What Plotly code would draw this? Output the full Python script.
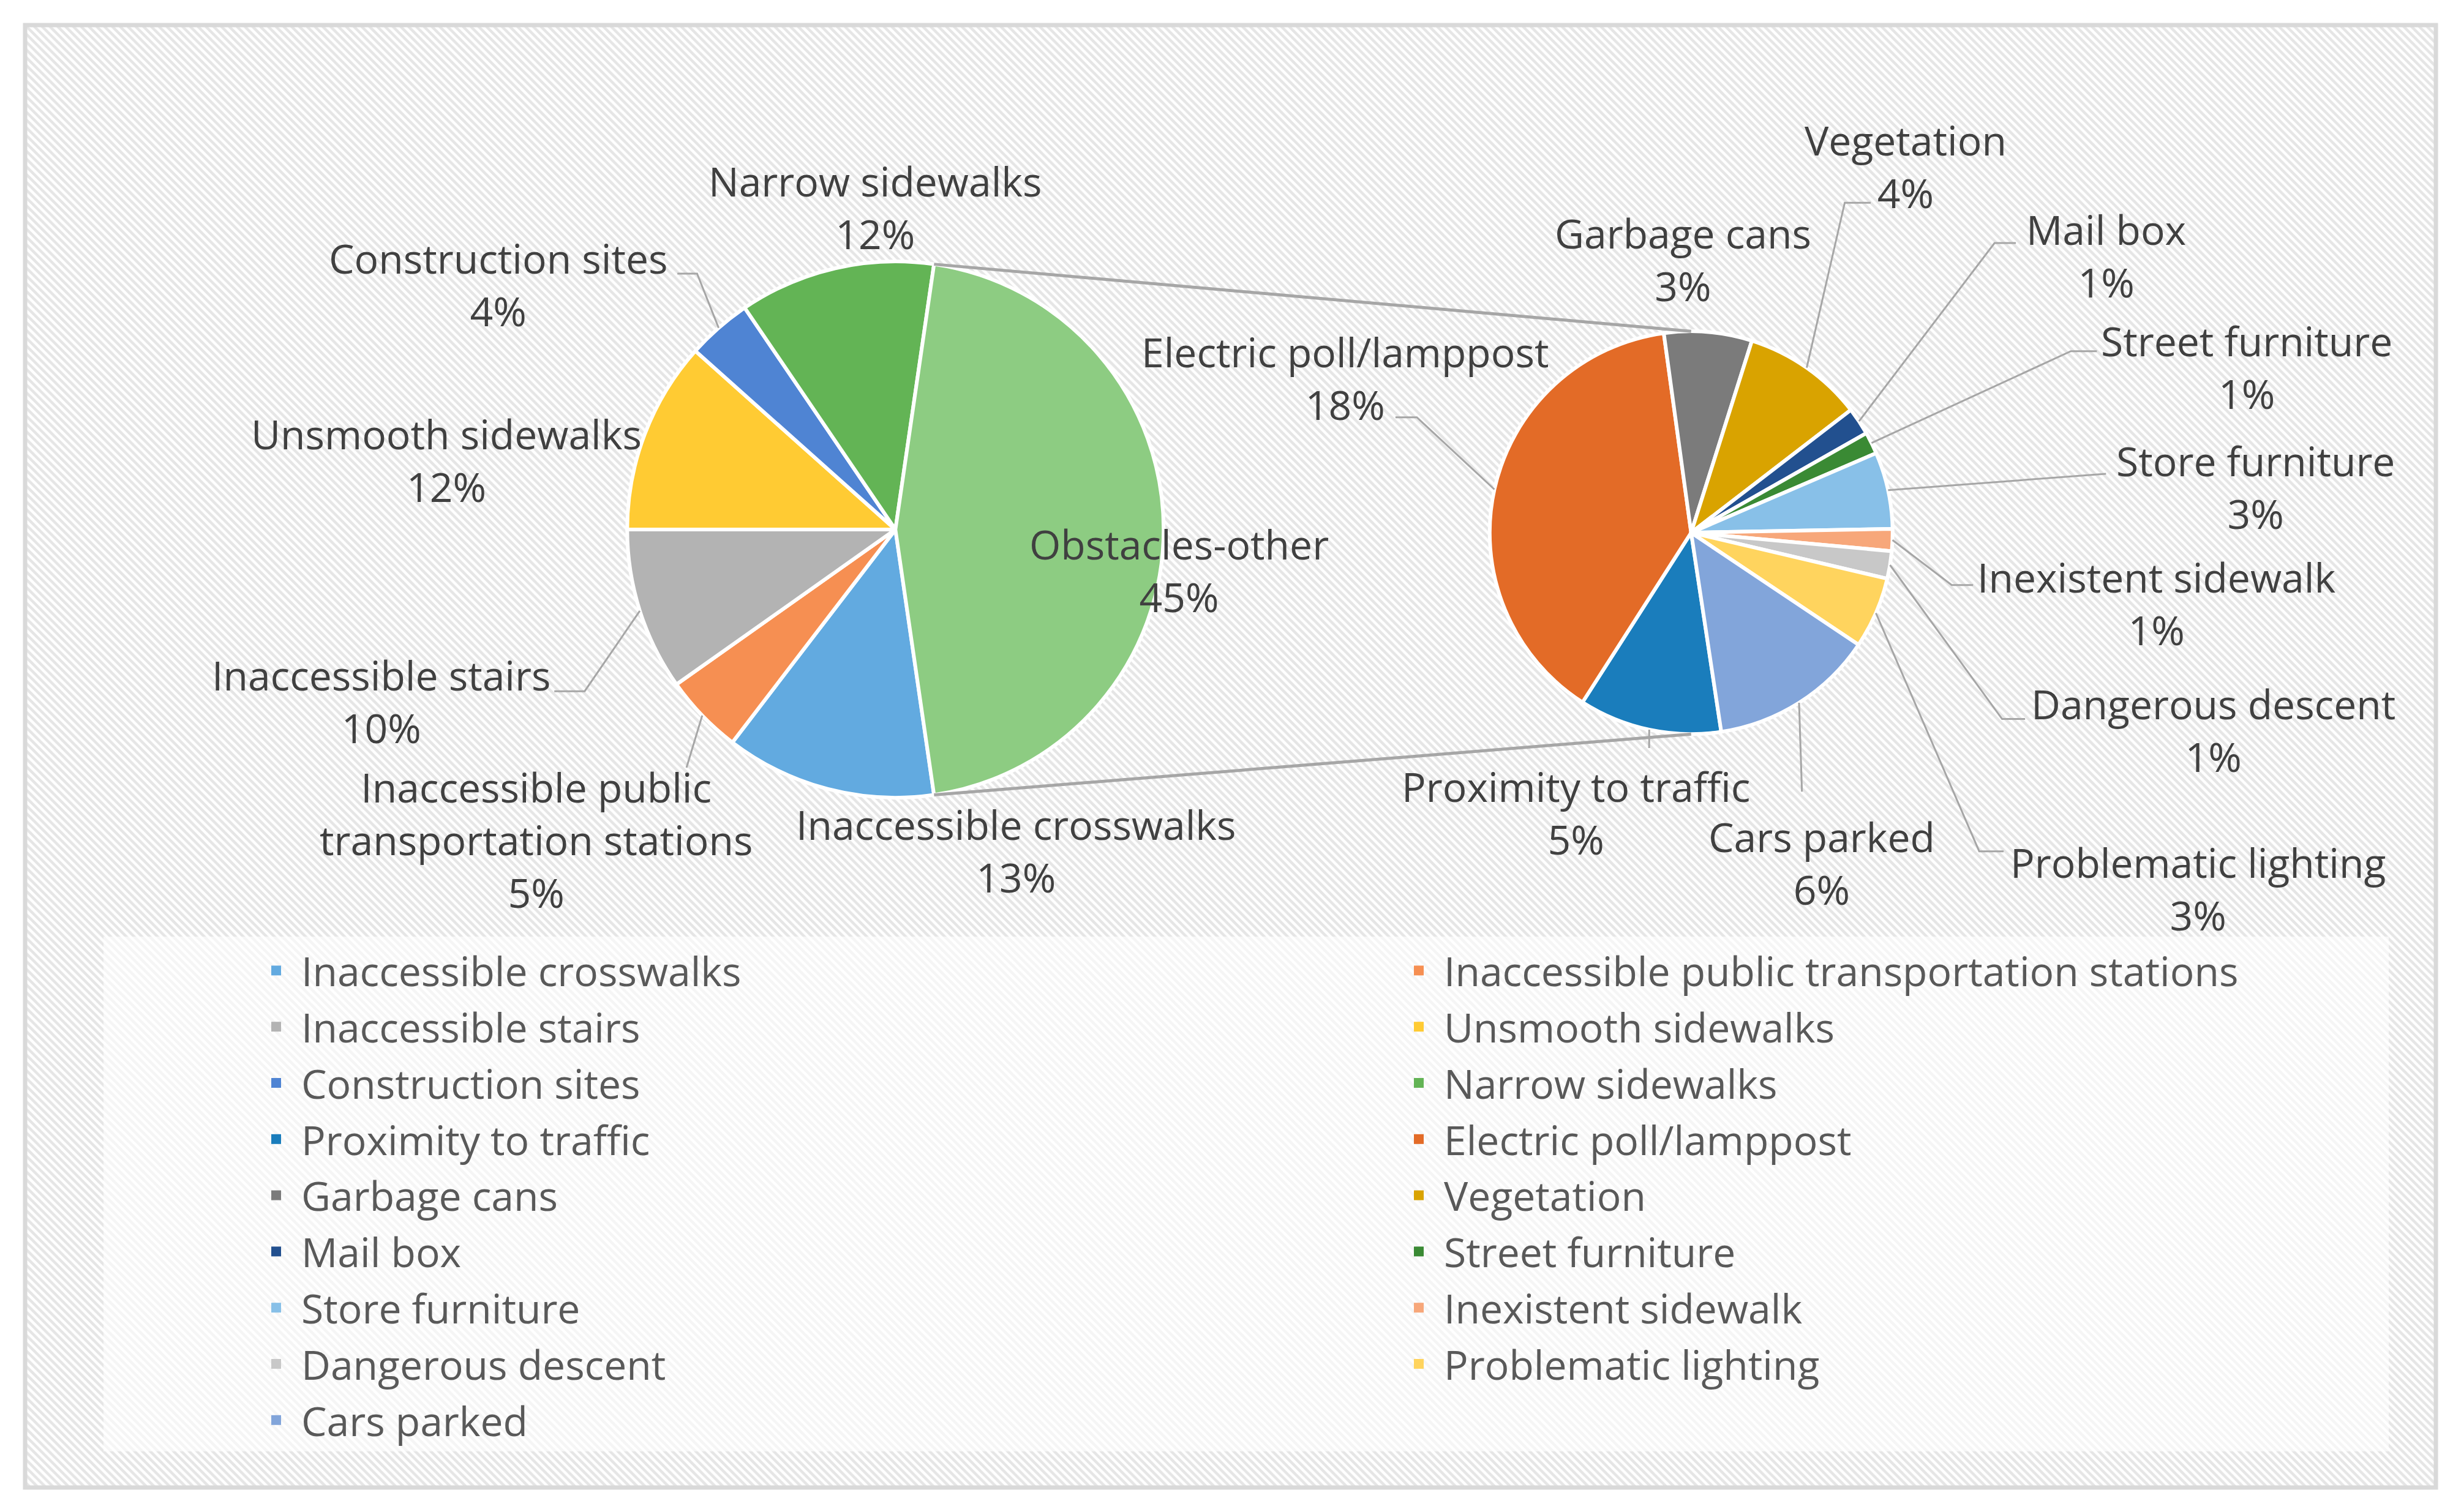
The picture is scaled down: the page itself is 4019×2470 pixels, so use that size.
import math
import plotly.graph_objects as go

# ---------------- data ----------------
main_labels = ["Inaccessible crosswalks", "Inaccessible public transportation stations",
               "Inaccessible stairs", "Unsmooth sidewalks", "Construction sites",
               "Narrow sidewalks", "Obstacles-other"]
main_values = [12.7, 4.8, 9.8, 11.6, 3.9, 11.8, 45.4]
main_colors = ["#62AAE0", "#F68F52", "#B3B3B3", "#FFCB33", "#4F84D3", "#63B455", "#8DCC82"]

sub_labels = ["Proximity to traffic", "Electric poll/lamppost", "Garbage cans", "Vegetation",
              "Mail box", "Street furniture", "Store furniture", "Inexistent sidewalk",
              "Dangerous descent", "Problematic lighting", "Cars parked"]
sub_values = [5.2, 17.6, 3.2, 4.4, 1.0, 0.8, 2.8, 0.8, 1.0, 2.6, 6.0]
sub_colors = ["#1A7DBC", "#E36B27", "#7B7B7B", "#D9A300", "#22508F", "#3A8A34",
              "#88C0E8", "#F7A77A", "#C8C8C8", "#FFD45E", "#82A5DA"]
sub_rotation = 171.4

# ---------------- layout constants ----------------
W, H = 4019, 2470          # browser window (page px)
OFF = 8                    # default body margin of the html page
FW, FH = W - 2 * OFF, H - 2 * OFF   # figure size
S = W / 1568.0             # reference-sketch px -> page px
FONT = "Open Sans"
FS = 66
TXT = "#404040"

C1 = (570.5 * S, 337.5 * S); RH1, RV1 = 182.5 * S, 159.5 * S; R1 = 438
C2 = (1077.5 * S, 339.5 * S); RH2, RV2 = 135.5 * S, 121.5 * S; R2 = 329

label_pos = {
    "Inaccessible crosswalks": (650, 535),
    "Inaccessible public transportation stations": (334, 528),
    "Inaccessible stairs": (232, 443),
    "Unsmooth sidewalks": (275, 294.5),
    "Construction sites": (309, 186.5),
    "Narrow sidewalks": (557, 139),
    "Obstacles-other": (757, 362.5),
    "Proximity to traffic": (1002, 513),
    "Electric poll/lamppost": (851, 243.5),
    "Garbage cans": (1072, 170),
    "Vegetation": (1218, 112),
    "Mail box": (1349, 167.5),
    "Street furniture": (1441, 236.5),
    "Store furniture": (1447, 311),
    "Inexistent sidewalk": (1382, 383),
    "Dangerous descent": (1419, 461.5),
    "Problematic lighting": (1409, 560),
    "Cars parked": (1163, 544),
}
leader_pts = {
    "Construction sites": [(427, 180), (440, 180)],
    "Inaccessible stairs": [(346, 437), (366, 437)],
    "Inaccessible public transportation stations": [(433, 484)],
    "Electric poll/lamppost": [(884, 268), (898, 268)],
    "Vegetation": [(1195, 135), (1178, 135)],
    "Mail box": [(1290, 160), (1276, 160)],
    "Street furniture": [(1343, 227), (1326, 227)],
    "Store furniture": [(1349, 303)],
    "Inexistent sidewalk": [(1262, 372), (1248, 372)],
    "Dangerous descent": [(1296, 455), (1281, 455)],
    "Problematic lighting": [(1282, 537), (1266, 537)],
    "Cars parked": [(1150, 500)],
    "Proximity to traffic": [(1050, 473)],
}
wrap = {"Inaccessible public transportation stations": "Inaccessible public<br>transportation stations"}


def domain(c, r):
    cx, cy = c[0] - OFF, c[1] - OFF
    return dict(x=[(cx - r) / FW, (cx + r) / FW], y=[1 - (cy + r) / FH, 1 - (cy - r) / FH])


def tf(p, c, rh, rv, r):
    # keep label placement proportional to the (circular) pie, half-way from the sketch
    kx = 1 + 0.5 * (r / rh - 1)
    ky = 1 + 0.5 * (r / rv - 1)
    x, y = p[0] * S, p[1] * S
    return c[0] + (x - c[0]) * kx, c[1] + (y - c[1]) * ky


def slice_angles(values, rotation):
    tot = sum(values)
    out, a = [], rotation
    for v in values:
        d = v / tot * 360.0
        out.append((a, a + d))
        a += d
    return out


def pt(c, r, ang):
    t = math.radians(ang)
    return c[0] + r * math.sin(t), c[1] - r * math.cos(t)


total = sum(main_values)
other_deg = main_values[-1] / total * 360.0
main_rotation = 90 + other_deg / 2.0
main_ang = slice_angles(main_values, main_rotation)
sub_ang = slice_angles(sub_values, sub_rotation)

fig = go.Figure()

# hatched chart-area background
fig.add_trace(go.Scatter(
    x=[41, 3978, 3978, 41, 41], y=[41, 41, 2430, 2430, 41], mode="lines", fill="toself",
    line=dict(width=0), fillcolor="white",
    fillpattern=dict(shape="\\", size=9, solidity=0.5, fgcolor="#CCCCCC", bgcolor="white"),
    hoverinfo="skip", showlegend=False))

fig.add_trace(go.Pie(
    labels=main_labels, values=main_values, sort=False, direction="clockwise",
    rotation=main_rotation, marker=dict(colors=main_colors, line=dict(color="white", width=6)),
    textinfo="none", hoverinfo="label+value", domain=domain(C1, R1), showlegend=False))
fig.add_trace(go.Pie(
    labels=sub_labels, values=sub_values, sort=False, direction="clockwise",
    rotation=sub_rotation, marker=dict(colors=sub_colors, line=dict(color="white", width=6)),
    textinfo="none", hoverinfo="label+value", domain=domain(C2, R2), showlegend=False))

# legend entries (all categories except the aggregated "other" slice), laid out in two columns
entries = list(zip(main_labels[:-1], main_colors[:-1])) + list(zip(sub_labels, sub_colors))
for i, (lab, col) in enumerate(entries):
    fig.add_trace(go.Scatter(x=[None], y=[None], mode="markers", name=lab,
                             legend="legend" if i % 2 == 0 else "legend2", legendgroup=lab,
                             marker=dict(symbol="square", size=16, color=col)))

shapes = []
annotations = []

# connector lines between the two pies
a_top, a_bot = main_ang[-1]
for a1, a2 in ((a_top, 0), (a_bot, 180)):
    p1 = pt(C1, R1, a1); p2 = pt(C2, R2, a2)
    shapes.append(dict(type="line", xref="x", yref="y", x0=p1[0], y0=p1[1], x1=p2[0], y1=p2[1],
                       line=dict(color="#A6A6A6", width=5), layer="above"))

groups = [
    (main_labels, main_values, main_ang, C1, RH1, RV1, R1),
    (sub_labels, sub_values, sub_ang, C2, RH2, RV2, R2),
]
for labels, values, angs, c, rh, rv, r in groups:
    for lab, v, (a0, a1) in zip(labels, values, angs):
        pct = v / total * 100.0
        x, y = tf(label_pos[lab], c, rh, rv, r)
        annotations.append(dict(
            x=x, y=y, xref="x", yref="y", showarrow=False, xanchor="center", yanchor="middle",
            align="center", text=f"{wrap.get(lab, lab)}<br>{pct:.0f}%",
            font=dict(family=FONT, size=FS, color=TXT)))
        if lab in leader_pts:
            pts = [tf(p, c, rh, rv, r) for p in leader_pts[lab]]
            pts.append(pt(c, r, (a0 + a1) / 2.0))
            path = "M " + " L ".join(f"{px:.1f},{py:.1f}" for px, py in pts)
            shapes.append(dict(type="path", xref="x", yref="y", path=path,
                               line=dict(color="#A6A6A6", width=3), layer="above"))

# chart border and legend panel
shapes.append(dict(type="rect", xref="x", yref="y", x0=41, y0=41, x1=3978, y1=2430,
                   line=dict(color="#D9D9D9", width=7), fillcolor="rgba(0,0,0,0)", layer="above"))
shapes.append(dict(type="rect", xref="x", yref="y", x0=169, y0=1530, x1=3901, y1=2371,
                   line=dict(width=0), fillcolor="rgba(255,255,255,0.6)", layer="above"))

leg_common = dict(orientation="v", xanchor="left", yanchor="top", bgcolor="rgba(0,0,0,0)",
                  itemwidth=72, traceorder="grouped", tracegroupgap=3,
                  font=dict(family=FONT, size=FS, color="#595959"))
LEG_TOP = 1536  # page px of legend top

fig.update_layout(
    width=FW, height=FH, margin=dict(l=0, r=0, t=0, b=0, autoexpand=False),
    paper_bgcolor="white", plot_bgcolor="white",
    xaxis=dict(range=[OFF, OFF + FW], visible=False, fixedrange=True, domain=[0, 1]),
    yaxis=dict(range=[OFF + FH, OFF], visible=False, fixedrange=True, domain=[0, 1]),
    shapes=shapes, annotations=annotations,
    showlegend=True,
    legend=dict(x=(410 - OFF) / FW, y=1 - (LEG_TOP - OFF) / FH, **leg_common),
    legend2=dict(x=(2276 - OFF) / FW, y=1 - (LEG_TOP - OFF) / FH, **leg_common),
    font=dict(family=FONT, size=FS, color=TXT),
)

fig.write_html("out.html", config={"displayModeBar": False})
